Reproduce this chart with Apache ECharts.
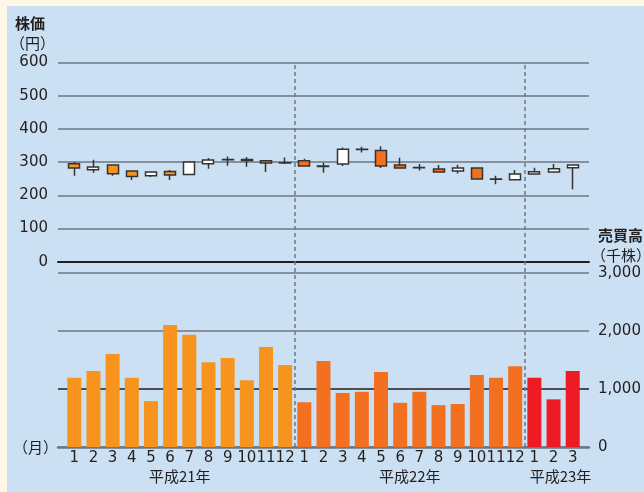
<!DOCTYPE html>
<html>
<head>
<meta charset="utf-8">
<script src="https://cdn.jsdelivr.net/npm/echarts@6/dist/echarts.min.js"></script>
<style>
  html, body { margin: 0; padding: 0; background: #fff7e5; }
  .panel { position: absolute; left: 7px; top: 6px; right: 0; bottom: 0; background: #cbe0f2; }
  #chart { position: absolute; left: 0; top: 0; width: 644px; height: 492px; }
</style>
</head>
<body>
<div class="panel"></div>
<div id="chart"></div>
<script>
  // 月ラベル（平成21年1月〜平成23年3月）
  var months = ['1', '2', '3', '4', '5', '6', '7', '8', '9', '10', '11', '12',
                '1', '2', '3', '4', '5', '6', '7', '8', '9', '10', '11', '12',
                '1', '2', '3'];
  var yearNames = ['平成21年', '平成22年', '平成23年'];
  var monthsPerYear = [12, 12, 3];

  // 株価（円）
  var priceOpen  = [295, 277, 291, 273, 259, 272, 263, 295, 307, 308, 304, 298,
                    304, 288, 294, 339, 335, 291, 284, 279, 273, 282, 249, 247,
                    264, 270, 283];
  var priceClose = [282, 285, 265, 257, 270, 261, 300, 306, 308, 305, 297, 297,
                    288, 287, 339, 338, 288, 282, 283, 270, 282, 249, 248, 264,
                    271, 280, 291];
  var priceLow   = [259, 268, 259, 246, 255, 246, 263, 280, 289, 286, 270, 294,
                    287, 268, 288, 329, 282, 281, 275, 269, 266, 249, 233, 247,
                    264, 270, 218];
  var priceHigh  = [300, 307, 293, 274, 271, 276, 301, 312, 317, 315, 304, 314,
                    310, 298, 344, 346, 348, 313, 294, 291, 292, 283, 259, 276,
                    283, 294, 291];

  // 売買高（千株）
  var volume = [1190, 1310, 1600, 1190, 790, 2100, 1930, 1460, 1530, 1150, 1720, 1410,
                770, 1480, 930, 950, 1290, 760, 950, 720, 740, 1240, 1190, 1390,
                1190, 820, 1310];

  var barColors = ['#f7941d', '#f37021', '#ed1c24'];
  var candleColors = ['#f7941d', '#f37021', '#f37021'];
  var gray = '#6f7780';
  var ink = '#231f20';
  var numFont = 'DejaVu Sans';
  var jpFont = '"Noto Sans CJK JP", sans-serif';

  var yearIndex = [];
  monthsPerYear.forEach(function (c, y) {
    for (var i = 0; i < c; i++) yearIndex.push(y);
  });
  var cats = months.map(function (m, i) { return yearIndex[i] + '-' + m; });

  var boundaries = [];
  var yearCenters = [];
  var acc = 0;
  monthsPerYear.forEach(function (c, y) {
    yearCenters.push(acc + (c + 1) / 2);
    acc += c;
    if (y < monthsPerYear.length - 1) boundaries.push(acc + 0.5);
  });

  var candleData = priceOpen.map(function (o, i) {
    return {
      value: [o, priceClose[i], priceLow[i], priceHigh[i]],
      itemStyle: { color0: candleColors[yearIndex[i]] }
    };
  });
  var barData = volume.map(function (v, i) {
    return { value: v, itemStyle: { color: barColors[yearIndex[i]] } };
  });

  var chart = echarts.init(document.getElementById('chart'));
  chart.setOption({
    animation: false,
    backgroundColor: 'transparent',
    title: [{
      left: 10, top: 14, padding: 0,
      text: '{b|株価}\n{n|（円）}',
      textStyle: {
        fontWeight: 'normal',
        rich: {
          b: { fontFamily: jpFont, fontWeight: 'bold', fontSize: 15, lineHeight: 19.5, color: ink, padding: [0, 0, 0, 5] },
          n: { fontFamily: jpFont, fontWeight: 'normal', fontSize: 15, lineHeight: 19.5, color: ink }
        }
      }
    }, {
      left: 591, top: 226, padding: 0,
      text: '{b|売買高}\n{n|（千株）}',
      textStyle: {
        fontWeight: 'normal',
        rich: {
          b: { fontFamily: jpFont, fontWeight: 'bold', fontSize: 15, lineHeight: 19.5, color: ink, padding: [0, 0, 0, 7] },
          n: { fontFamily: jpFont, fontWeight: 'normal', fontSize: 15, lineHeight: 19.5, color: ink }
        }
      }
    }],
    grid: [
      { left: 58, right: 55, top: 62.5, height: 199.2 },
      { left: 58, right: 55, top: 272.7, height: 174.3 },
      { left: 64.7, right: 61.7, top: 62.5, height: 199.2 },
      { left: 64.7, right: 61.7, top: 272.7, height: 174.3 },
      { left: 64.7, right: 61.7, top: 62, height: 385 }
    ],
    xAxis: [{
      gridIndex: 0, type: 'value', min: 0, max: 1,
      axisLine: { show: true, lineStyle: { color: ink, width: 2 } },
      axisTick: { show: false }, axisLabel: { show: false }, splitLine: { show: false }
    }, {
      gridIndex: 1, type: 'value', min: 0, max: 1,
      axisLine: { show: true, lineStyle: { color: gray, width: 2.5 } },
      axisTick: { show: false }, axisLabel: { show: false }, splitLine: { show: false },
      name: '（月）', nameLocation: 'start', nameGap: 0,
      nameTextStyle: { fontFamily: jpFont, fontSize: 15, color: ink, padding: [23, 0, 0, 0] }
    }, {
      gridIndex: 2, type: 'category', data: cats, show: false
    }, {
      gridIndex: 3, type: 'category', data: cats,
      axisLine: { show: false }, axisTick: { show: false },
      axisLabel: {
        interval: 0, margin: 4, fontFamily: numFont, fontSize: 15, color: ink,
        formatter: function (v, i) { return months[i]; }
      }
    }, {
      gridIndex: 4, type: 'value', min: 0.5, max: 27.5,
      axisLine: { show: false }, axisTick: { show: false }, splitLine: { show: false },
      axisLabel: {
        customValues: yearCenters, margin: 22, fontFamily: jpFont, fontSize: 15, color: ink,
        formatter: function (v) {
          var k = yearCenters.indexOf(v);
          if (k < 0) return '';
          return k === yearNames.length - 1 ? '{s|' + yearNames[k] + '}' : yearNames[k];
        },
        rich: { s: { fontFamily: jpFont, fontSize: 15, color: ink, padding: [0, 0, 0, 14] } }
      }
    }],
    yAxis: [{
      gridIndex: 0, type: 'value', min: 0, max: 600, interval: 100,
      axisLine: { show: false }, axisTick: { show: false },
      axisLabel: { margin: 10, fontFamily: numFont, fontSize: 15, color: ink },
      splitLine: { lineStyle: { color: gray, width: 1.5 } }
    }, {
      gridIndex: 1, type: 'value', position: 'right', min: 0, max: 3000, interval: 1000,
      axisLine: { show: false }, axisTick: { show: false },
      axisLabel: {
        margin: 9, fontFamily: numFont, fontSize: 15, color: ink,
        formatter: function (v) { return v.toLocaleString('en-US'); }
      },
      splitLine: { lineStyle: { color: [gray, ink, gray, gray], width: 1.5 } }
    }, {
      gridIndex: 2, type: 'value', min: 0, max: 600, show: false
    }, {
      gridIndex: 3, type: 'value', min: 0, max: 3000, show: false
    }, {
      gridIndex: 4, type: 'value', min: 0, max: 1, show: false
    }],
    series: [{
      type: 'candlestick',
      xAxisIndex: 2, yAxisIndex: 2,
      barWidth: 11.5,
      itemStyle: {
        color: '#ffffff', color0: '#f7941d',
        borderColor: '#333333', borderColor0: '#333333', borderColorDoji: '#333333',
        borderWidth: 1.5
      },
      data: candleData
    }, {
      type: 'bar',
      xAxisIndex: 3, yAxisIndex: 3,
      barWidth: 14,
      data: barData
    }, {
      type: 'line',
      xAxisIndex: 4, yAxisIndex: 4,
      data: [],
      markLine: {
        silent: true, symbol: 'none',
        label: { show: false },
        lineStyle: { color: gray, type: [4, 3], width: 1.5 },
        data: boundaries.map(function (b) { return { xAxis: b }; })
      }
    }]
  });
</script>
</body>
</html>
